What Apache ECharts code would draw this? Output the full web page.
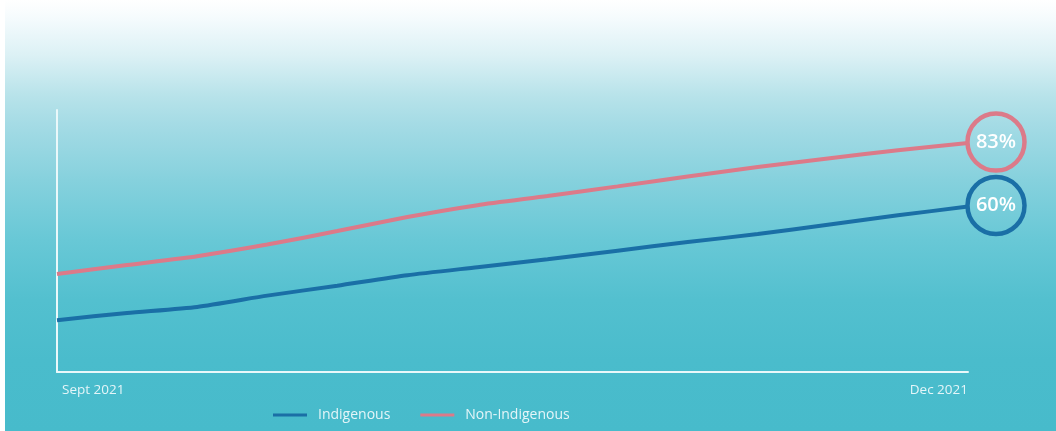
<!DOCTYPE html>
<html>
<head>
<meta charset="utf-8">
<script src="https://cdn.jsdelivr.net/npm/echarts@6/dist/echarts.min.js"></script>
<style>
  html, body { margin: 0; padding: 0; background: #ffffff; }
  #wrap {
    position: absolute; left: 5px; top: 0; width: 1051px; height: 431px;
    background: linear-gradient(to bottom,
      #ffffff 0px, #f5fbfd 18px, #dcf1f5 55px, #b8e3ea 95px,
      #a4dbe5 125px, #86d1dd 180px, #68c8d6 240px, #53c0cf 300px,
      #4abccc 360px, #47bbcb 431px);
  }
  #chart { position: absolute; left: -5px; top: 0; width: 1056px; height: 431px; }
</style>
</head>
<body>
<div id="wrap"><div id="chart"></div></div>
<script>
// Weekly share (%) from September to December 2021
const weeks = ['Sept 2021', 'w2', 'w3', 'w4', 'w5', 'w6', 'w7', 'w8', 'w9', 'w10', 'w11', 'w12', 'w13', 'Dec 2021'];
const indigenous = [18.8, 21.4, 23.6, 27.7, 31.3, 35.1, 38.0, 40.9, 44.0, 47.1, 50.0, 53.4, 56.8, 60];
const nonIndigenous = [35.5, 38.8, 42.0, 46.2, 51.1, 56.2, 60.5, 63.8, 67.3, 70.9, 74.3, 77.4, 80.4, 83];
const seriesNames = ['Indigenous', 'Non-Indigenous'];

const BLUE = '#1a6fa6';
const PINK = '#dc7a89';
const FONT = '"Open Sans", "Noto Sans", sans-serif';

// Last point carries a ringed badge with the final value
function withEndBadge(values, color) {
  return values.map((v, i) => {
    if (i !== values.length - 1) return v;
    return {
      value: v,
      symbol: 'circle',
      symbolSize: 57,
      symbolOffset: [28, -1],
      itemStyle: { color: 'rgba(0,0,0,0)', borderColor: color, borderWidth: 4.5 },
      label: {
        show: true,
        position: 'inside',
        formatter: '{c}%',
        color: '#ffffff',
        fontSize: 20,
        fontWeight: 600,
        fontFamily: FONT
      }
    };
  });
}

const chart = echarts.init(document.getElementById('chart'), null, { renderer: 'canvas' });

chart.setOption({
  backgroundColor: 'transparent',
  animation: false,
  grid: { left: 57, right: 88, top: 110, bottom: 59, containLabel: false },
  legend: {
    left: 268,
    top: 403,
    icon: 'rect',
    itemWidth: 34,
    itemHeight: 3,
    itemGap: 30,
    textStyle: { color: '#e4f5f8', fontSize: 14, fontFamily: FONT, padding: [0, 0, 0, 6] },
    data: seriesNames
  },
  xAxis: {
    type: 'category',
    data: weeks,
    boundaryGap: false,
    axisLine: { show: true, lineStyle: { color: '#eaf8fa', width: 2 } },
    axisTick: { show: false },
    splitLine: { show: false },
    axisLabel: {
      interval: 0,
      color: '#e4f5f8',
      fontSize: 13.5,
      fontFamily: FONT,
      margin: 11,
      alignMinLabel: 'left',
      alignMaxLabel: 'right',
      formatter: (v, i) => i === 0 ? '{first|' + v + '}' : (i === weeks.length - 1 ? '{last|' + v + '}' : ''),
      rich: {
        first: { padding: [0, 0, 0, 5], fontSize: 13.5, color: '#e4f5f8', fontFamily: FONT },
        last: { padding: [0, 0, 0, 0], fontSize: 13.5, color: '#e4f5f8', fontFamily: FONT }
      }
    }
  },
  yAxis: {
    type: 'value',
    min: 0,
    max: 95,
    axisLine: { show: true, lineStyle: { color: '#eaf8fa', width: 2 } },
    axisTick: { show: false },
    axisLabel: { show: false },
    splitLine: { show: false }
  },
  series: [
    {
      name: seriesNames[0],
      type: 'line',
      data: withEndBadge(indigenous, BLUE),
      symbol: 'none',
      smooth: 0.2,
      lineStyle: { color: BLUE, width: 4 },
      itemStyle: { color: BLUE },
      z: 3
    },
    {
      name: seriesNames[1],
      type: 'line',
      data: withEndBadge(nonIndigenous, PINK),
      symbol: 'none',
      smooth: 0.2,
      lineStyle: { color: PINK, width: 4 },
      itemStyle: { color: PINK },
      z: 3
    }
  ]
});
</script>
</body>
</html>
